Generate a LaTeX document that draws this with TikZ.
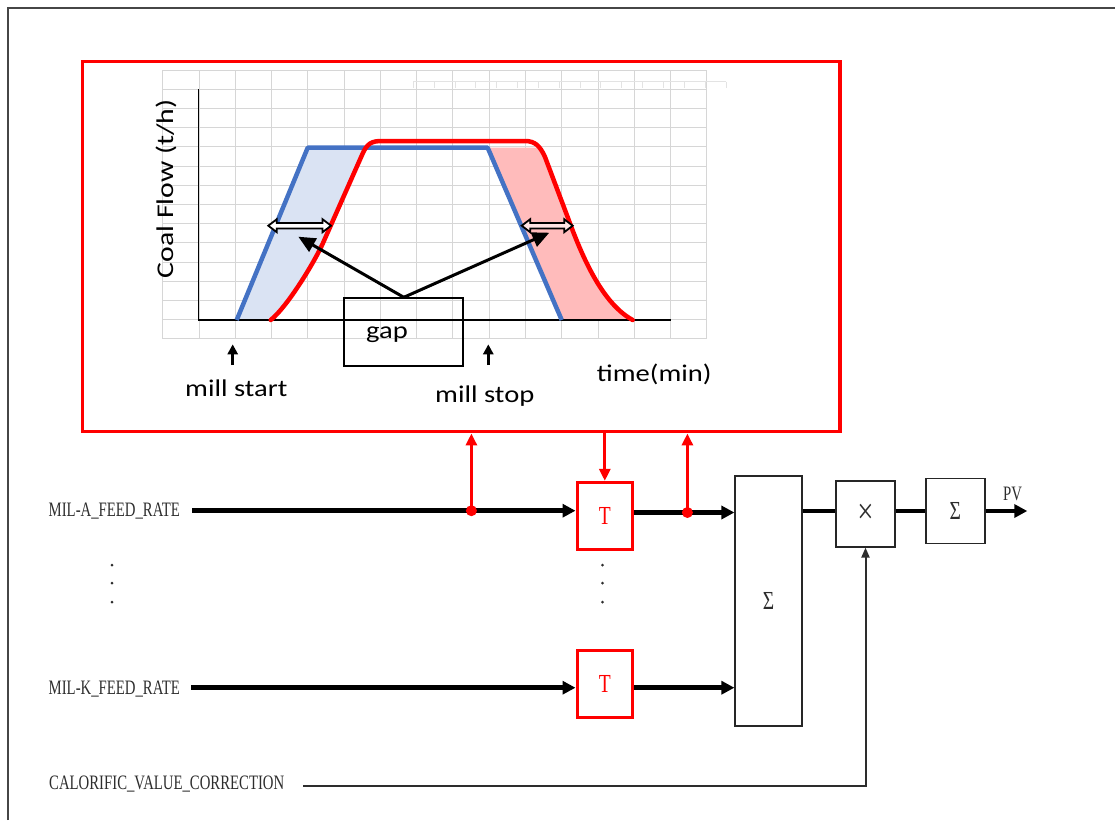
\documentclass[tikz,border=0pt]{standalone}
\usepackage{fontspec}
\usepackage{graphicx}
\setmainfont{Liberation Serif}
\newfontfamily\chartfont{Carlito}
\usetikzlibrary{arrows.meta}

\definecolor{gridgray}{RGB}{214,214,214}
\definecolor{flowblue}{RGB}{68,114,196}
\definecolor{fillblue}{RGB}{218,227,243}
\definecolor{fillpink}{RGB}{255,187,187}
\definecolor{labgray}{RGB}{45,45,45}
\definecolor{framegray}{RGB}{70,70,70}

% chart lettering (sans) and signal lettering (narrow serif)
\newcommand\chtext[1]{{\chartfont\fontsize{24}{24}\selectfont\scalebox{1.19}[1]{#1}}}
\newcommand\sigtext[1]{{\fontsize{20.5}{21}\selectfont\scalebox{0.72}[1]{#1}}}
\newcommand\opsym[1]{{\fontsize{26}{26}\selectfont\scalebox{0.75}[1]{#1}}}

% hollow two-headed arrow: x1, x2, y, fill colour
\newcommand\twowayarrow[4]{%
  \filldraw[line width=1.8, fill=#4, line join=miter]
    (#1,#3) -- ++(8.5,-6.5) -- ++(0,3.8) -- ++({#2-#1-17},0) -- ++(0,-3.8)
    -- ++(8.5,6.5) -- ++(-8.5,6.5) -- ++(0,-3.8) -- ++({-(#2-#1-17)},0)
    -- ++(0,3.8) -- cycle;}

\tikzset{
  tbox/.style={draw=red, line width=3, minimum width=55.6, minimum height=66.7,
    inner sep=0, text=red},
  opbox/.style={draw=black!85, line width=1.6, inner sep=0, text=labgray},
  sig/.style={line width=4.5, -{Triangle[length=13pt,width=13pt]}},
  redarrow/.style={red, line width=3, -{Triangle[length=12pt,width=11pt]}},
  txt/.style={anchor=base west, inner sep=0},
}

\begin{document}
\begin{tikzpicture}[x=1pt,y=-1pt]
\useasboundingbox (0,0) rectangle (1115,820);

% page frame
\draw[framegray, line width=2] (7.5,820) -- (7.5,7.5) -- (1115,7.5);

% ---------- chart ----------
% grid
\draw[gridgray, line width=0.9]
  foreach \i in {0,...,15} {({162.7+36.27*\i},70) -- ({162.7+36.27*\i},339)}
  foreach \j in {0,...,14} {(162.7,{70+19.21*\j}) -- (706.7,{70+19.21*\j})};
% faint ruler
\draw[gray!22, line width=1] (413.3,81.7) -- (726,81.7)
  foreach \k in {0,...,15} {({413.3+20.85*\k},81.7) -- ++(0,6.5)};

% shaded gaps
\fill[fillblue] (236.7,320) -- (307.7,147.7) -- (365,147.7) -- (362,155)
  -- (323,243) .. controls (315,261) and (288,306) .. (270.7,320) -- cycle;
\fill[fillpink] (487.7,147.7) -- (541,147.7) -- (545,157) -- (568,218)
  .. controls (585,265) and (605,305) .. (632.7,320) -- (561.7,320) -- cycle;

% axes
\draw[black, line width=1.3] (198.7,89.3) -- (198.7,320) -- (670.5,320);

% flow curves
\draw[flowblue, line width=4.5, line join=round]
  (236.7,320) -- (307.7,147.7) -- (487.7,147.7) -- (561.7,320);
\draw[red, line width=4.5, line cap=round, line join=round]
  (270.7,320) .. controls (288,306) and (315,261) .. (323,243) -- (362,155)
  .. controls (367,143) and (372,141) .. (382,141) -- (525,141)
  .. controls (535,141) and (540,146) .. (545,157) -- (568,218)
  .. controls (585,265) and (605,305) .. (632.7,320);

% gap markers
\twowayarrow{268.3}{331}{225.7}{white}
\twowayarrow{521.7}{572.7}{225.7}{fillpink!40}

\node[draw, line width=2, minimum width=119, minimum height=67.4, inner sep=0]
  (gapbox) at (403.8,332) {};
\node[txt] (gaplabel) at (366,338.3) {\chtext{gap}};
\coordinate (gapL) at (298.3,236.7);
\coordinate (gapR) at (549.3,232.7);
\draw[line width=3, -{Triangle[length=17pt,width=15pt]}] (gapbox.north) -- (gapL);
\draw[line width=3, -{Triangle[length=17pt,width=15pt]}] (gapbox.north) -- (gapR);

% start / stop markers
\coordinate (startFoot) at (232.7,365);
\coordinate (startTip) at (232.7,344.3);
\coordinate (stopFoot) at (488.3,365);
\coordinate (stopTip) at (488.3,344.3);
\draw[line width=3, -{Triangle[length=10pt,width=10pt]}] (startFoot) -- (startTip);
\draw[line width=3, -{Triangle[length=10pt,width=10pt]}] (stopFoot) -- (stopTip);

\node[txt] (millstart) at (185,396) {\chtext{mill start}};
\node[txt] (millstop) at (435,402) {\chtext{mill stop}};
\node[txt] (timelab) at (596.7,381.7) {\chtext{time(min)}};
\node[rotate=90, inner sep=0] (ylab) at (166,189)
  {{\chartfont\fontsize{24}{24}\selectfont\scalebox{1.24}[1]{Coal Flow (t/h)}}};

% frame around the chart
\node[draw=red, line width=3.5, minimum width=757.3, minimum height=370, inner sep=0]
  (chartframe) at (461.3,246.7) {};

% ---------- signal path ----------
\node[txt, text=labgray] (labA) at (48.5,516) {\sigtext{MIL-A\_FEED\_RATE}};
\node[txt, text=labgray] (labK) at (48.5,694) {\sigtext{MIL-K\_FEED\_RATE}};
\node[txt, text=labgray] (labC) at (49,789) {\sigtext{CALORIFIC\_VALUE\_CORRECTION}};

\node[tbox] (T1) at (604.8,515.7) {\opsym{T}};
\node[tbox] (T2) at (604.8,683.7) {\opsym{T}};
\node[opbox, minimum width=66.6, minimum height=249.7] (sumA) at (768.5,600.9) {\opsym{Σ}};
\node[opbox, minimum width=58.8, minimum height=65.7] (mul) at (865.5,513.9)
  {{\fontsize{36}{36}\selectfont\scalebox{0.8}[1]{×}}};
\node[opbox, minimum width=59.1, minimum height=65] (sumB) at (955.3,510.8) {\opsym{Σ}};
\node[txt, text=labgray] (pv) at (1003,500.7) {\sigtext{PV}};

\coordinate (aStart) at (192,510.7);
\coordinate (kStart) at (191.4,687.7);
\coordinate (dotA) at (471.4,510.7);
\coordinate (dotB) at (687.4,512.5);
\coordinate (outrow) at (0,511);
\coordinate (pvEnd) at (1027.3,511);
\coordinate (cStart) at (303,785.7);

\draw[sig] (aStart) -- (aStart -| T1.west);
\draw[sig] (kStart) -- (kStart -| T2.west);
\draw[sig] (T1.east |- dotB) -- (dotB -| sumA.west);
\draw[sig] (T2.east |- kStart) -- (kStart -| sumA.west);
\draw[line width=4.5] (sumA.east |- outrow) -- (mul.west |- outrow);
\draw[line width=4.5] (mul.east |- outrow) -- (sumB.west |- outrow);
\draw[sig] (sumB.east |- outrow) -- (pvEnd);
\draw[labgray, line width=2, -{Triangle[length=10pt,width=8pt]}] (cStart) -| (mul.south);

% taps into and out of the chart
\draw[redarrow] (dotA) -- (dotA |- chartframe.south);
\draw[redarrow] (dotB) -- (dotB |- chartframe.south);
\draw[redarrow] (T1.north |- chartframe.south) -- (T1.north);
\fill[red] (dotA) circle (5.5);
\fill[red] (dotB) circle (5.5);

% vertical ellipsis dots
\fill[labgray] foreach \y in {565,583,602} {(112,\y) circle (1.5) (602.5,\y) circle (1.5)};
\end{tikzpicture}
\end{document}
